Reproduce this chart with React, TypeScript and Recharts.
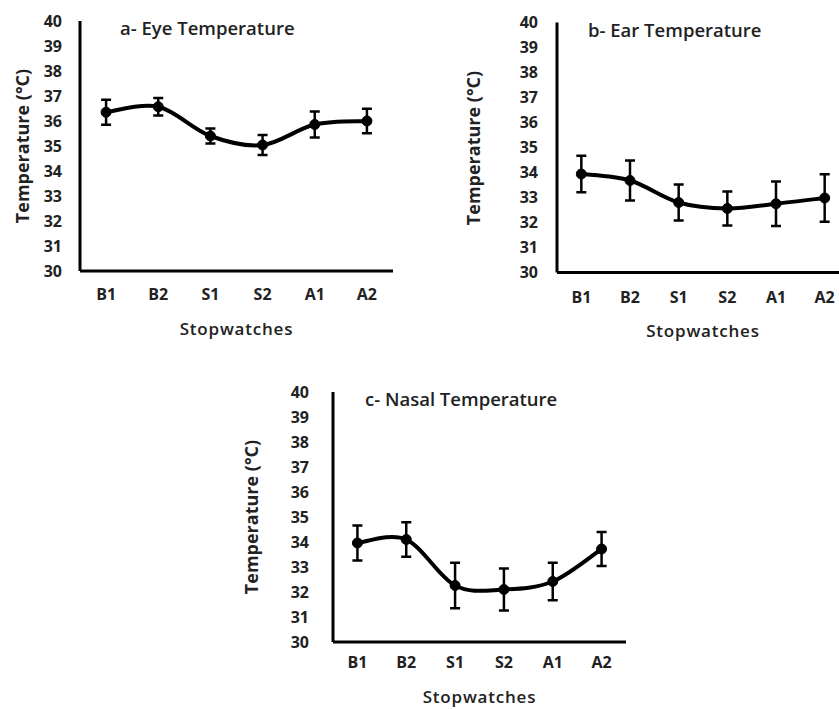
import React from 'react';
import { LineChart, Line, XAxis, YAxis, ErrorBar } from 'recharts';

const categories = ['B1', 'B2', 'S1', 'S2', 'A1', 'A2'];
const yTicks = [30, 31, 32, 33, 34, 35, 36, 37, 38, 39, 40];

const eyeMean = [36.35, 36.57, 35.4, 35.04, 35.86, 36.0];
const eyeErr = [0.5, 0.35, 0.3, 0.4, 0.52, 0.49];

const earMean = [33.94, 33.68, 32.8, 32.56, 32.75, 32.98];
const earErr = [0.73, 0.8, 0.72, 0.68, 0.89, 0.95];

const nasalMean = [33.96, 34.1, 32.26, 32.1, 32.42, 33.72];
const nasalErr = [0.7, 0.69, 0.91, 0.84, 0.75, 0.68];

const FONT = '"Open Sans", sans-serif';
const INK = '#222';

// Excel style smoothed line (uniform Catmull-Rom through every point)
const excelSmooth = (context: any) => {
  let pts: number[][] = [];
  return {
    areaStart() {},
    areaEnd() {},
    lineStart() {
      pts = [];
    },
    point(x: number, y: number) {
      pts.push([+x, +y]);
    },
    lineEnd() {
      if (!pts.length) return;
      context.moveTo(pts[0][0], pts[0][1]);
      for (let i = 0; i < pts.length - 1; i++) {
        const p0 = pts[Math.max(i - 1, 0)];
        const p1 = pts[i];
        const p2 = pts[i + 1];
        const p3 = pts[Math.min(i + 2, pts.length - 1)];
        context.bezierCurveTo(
          p1[0] + (p2[0] - p0[0]) / 6,
          p1[1] + (p2[1] - p0[1]) / 6,
          p2[0] - (p3[0] - p1[0]) / 6,
          p2[1] - (p3[1] - p1[1]) / 6,
          p2[0],
          p2[1]
        );
      }
    },
  };
};

interface PanelProps {
  title: string;
  mean: number[];
  err: number[];
  left: number;
  top: number;
  width: number;
  height: number;
  yAxisWidth: number;
  margin: { top: number; right: number; bottom: number; left: number };
  xAxisHeight: number;
  xTickMargin: number;
  yTickMargin: number;
  titlePos: { x: number; y: number };
  yTitlePos: { x: number; y: number };
}

const Panel = (p: PanelProps) => {
  const data = categories.map((name, i) => ({ name, mean: p.mean[i], err: p.err[i] }));
  const tickStyle = { fill: INK, fontSize: 16, fontWeight: 700, fontFamily: FONT };
  // half a category band on each side, like Excel's "between tick marks"
  const plotWidth = p.width - p.yAxisWidth - p.margin.left - p.margin.right;
  const pad = plotWidth / categories.length / 2;

  return (
    <div style={{ position: 'absolute', left: p.left, top: p.top, width: p.width, height: p.height }}>
      <LineChart width={p.width} height={p.height} data={data} margin={p.margin}>
        <XAxis
          dataKey="name"
          height={p.xAxisHeight}
          padding={{ left: pad, right: pad }}
          axisLine={{ stroke: '#000', strokeWidth: 3 }}
          tickLine={false}
          tickMargin={p.xTickMargin}
          tick={tickStyle}
          interval={0}
          label={{
            value: 'Stopwatches',
            position: 'bottom',
            offset: 0,
            style: { fill: INK, fontSize: 17, fontWeight: 600, fontFamily: FONT, letterSpacing: 0.8 },
          }}
        />
        <YAxis
          type="number"
          domain={[30, 40]}
          ticks={yTicks}
          interval={0}
          width={p.yAxisWidth}
          axisLine={{ stroke: '#000', strokeWidth: 3 }}
          tickLine={false}
          tickMargin={p.yTickMargin}
          tick={tickStyle}
        />
        <Line
          type={excelSmooth as any}
          dataKey="mean"
          stroke="#000"
          strokeWidth={4}
          dot={{ r: 5, fill: '#000', stroke: '#000', strokeWidth: 1 }}
          activeDot={false}
          isAnimationActive={false}
        >
          <ErrorBar dataKey="err" direction="y" width={5} stroke="#000" strokeWidth={2.5} isAnimationActive={false} />
        </Line>
      </LineChart>
      <div
        style={{
          position: 'absolute',
          left: p.titlePos.x - p.left,
          top: p.titlePos.y - p.top,
          fontFamily: FONT,
          fontSize: 18.5,
          fontWeight: 600,
          color: INK,
          whiteSpace: 'nowrap',
          lineHeight: 1,
        }}
      >
        {p.title}
      </div>
      <div
        style={{
          position: 'absolute',
          left: p.yTitlePos.x - p.left,
          top: p.yTitlePos.y - p.top,
          transform: 'translate(-50%, -50%) rotate(-90deg)',
          fontFamily: FONT,
          fontSize: 18,
          fontWeight: 700,
          color: INK,
          whiteSpace: 'nowrap',
          lineHeight: 1,
        }}
      >
        Temperature (°C)
      </div>
    </div>
  );
};

export default function App() {
  return (
    <div
      style={{
        position: 'absolute',
        left: 0,
        top: 0,
        width: 839,
        height: 709,
        overflow: 'hidden',
        background: '#fff',
      }}
    >
      <Panel
        title="a- Eye Temperature"
        mean={eyeMean}
        err={eyeErr}
        left={0}
        top={0}
        width={420}
        height={350}
        yAxisWidth={80}
        margin={{ top: 21, right: 27, bottom: 27, left: 0 }}
        xAxisHeight={52}
        xTickMargin={12}
        yTickMargin={12}
        titlePos={{ x: 120, y: 19 }}
        yTitlePos={{ x: 22, y: 146 }}
      />
      <Panel
        title="b- Ear Temperature"
        mean={earMean}
        err={earErr}
        left={440}
        top={0}
        width={420}
        height={350}
        yAxisWidth={117}
        margin={{ top: 22.5, right: 11, bottom: 25.5, left: 0 }}
        xAxisHeight={52}
        xTickMargin={13}
        yTickMargin={13}
        titlePos={{ x: 588, y: 21 }}
        yTitlePos={{ x: 473, y: 148 }}
      />
      <Panel
        title="c- Nasal Temperature"
        mean={nasalMean}
        err={nasalErr}
        left={230}
        top={370}
        width={420}
        height={339}
        yAxisWidth={103}
        margin={{ top: 22, right: 24, bottom: 18, left: 0 }}
        xAxisHeight={49}
        xTickMargin={9}
        yTickMargin={18}
        titlePos={{ x: 365, y: 390 }}
        yTitlePos={{ x: 251, y: 517 }}
      />
    </div>
  );
}
